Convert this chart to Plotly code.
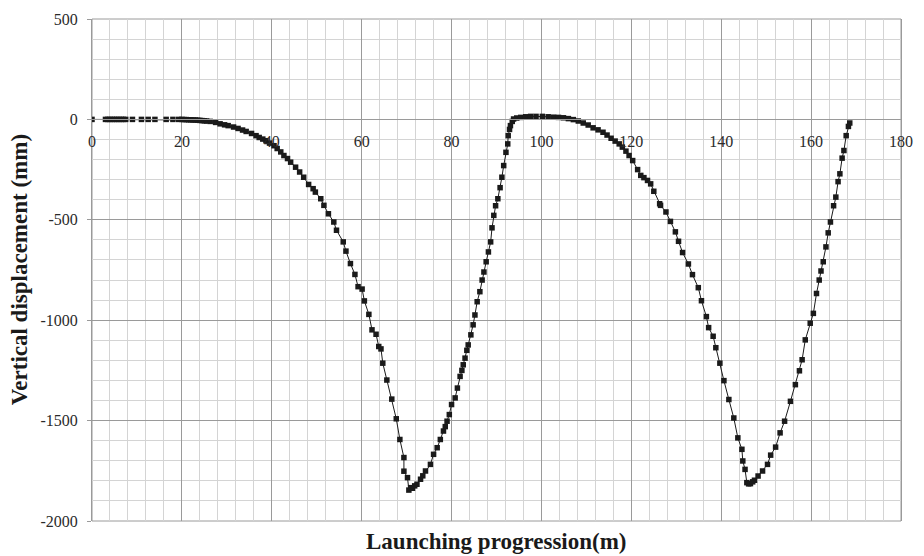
import plotly.graph_objects as go

# Launching progression (m)
x_m = [0, 3, 3.5, 4, 4.5, 5, 5.5, 6, 6.5, 7, 7.5, 9, 11, 12.5, 14, 16.5, 18, 19.3,
       20, 20.5, 21, 21.5, 22, 22.5, 23, 23.5, 24, 24.5, 25, 25.5,
       26.3, 27.5, 28.5, 29.5, 30.3, 31.5, 32.5, 33.5, 34.3, 35.5, 36.5, 37.2, 38, 38.7,
       39.5, 40.5, 41.2, 42, 42.7, 43.5, 44.2, 45.3, 46.2, 47.1, 48.2, 49.2, 49.7, 50.9,
       51.6, 52.6, 53.8, 54.4, 55.9, 56.5, 57.5, 58.5, 59.2, 60.1, 60.6, 61.6, 62.3, 63.2,
       63.8, 64.3, 64.7, 65.6, 66.7, 67.7, 68.5, 69.4, 69.4, 70.2, 70.5, 70.9, 71.3, 71.8,
       72.3, 73.1, 73.6, 74.2, 75.3, 76, 76.8, 77.5, 78.2, 78.6, 79, 79.5, 80, 80.8, 81.3,
       81.9, 82.3, 82.6, 83, 83.4, 83.7, 84.3, 84.8, 85.2, 85.7, 86.3, 86.8, 87.2, 87.7,
       88.2, 88.7, 89, 89.4, 89.8, 90.3, 90.8, 91.2, 91.6, 92.1, 92.5, 92.6, 92.9, 93.1,
       93.5, 93.8, 94.5, 95.4, 96.5, 97.6, 98.8, 100.2, 101.5, 102.7, 103.8, 104.9, 106,
       107.1, 108.2, 109.3, 110.4, 111.5, 112.6, 113.7, 114.6, 115.5, 116.4, 117.3, 118,
       118.8, 119.5, 120.3, 121.4, 122.1, 122.8, 123.6, 124.3, 125, 126.3, 126.5, 127.7,
       128.7, 129.8, 130.5, 131.4, 132.7, 133.6, 134.9, 135.6, 136.7, 137.2, 138.2, 138.8,
       139.7, 140.6, 141.7, 142.8, 143.7, 144.6, 144.8, 145.3, 145.7, 146.1, 146.5, 147,
       147.4, 148.2, 149.2, 150.3, 151, 152.1, 153.1, 154.1, 155.4, 156.5, 157.4, 158,
       158.7, 159.8, 160.5, 161.2, 161.8, 162.2, 162.7, 163.3, 163.8, 164.3, 165, 165.5,
       166, 166.4, 166.9, 167.3, 167.8, 168.3, 168.6]

# Vertical displacement (mm)
disp_mm = [0, 0, 0, 0, 0, 0, 0, 0, 0, 0, 0, 0, 0, 0, 0, 0, 0, 0,
           0, -1, -1, -2, -2, -3, -3, -4, -5, -6, -7, -8,
           -10, -15, -22, -27, -31, -38, -45, -53, -60, -70, -81, -90, -98, -106,
           -118, -131, -145, -162, -180, -195, -213, -238, -262, -288, -324, -345, -362, -395,
           -428, -470, -511, -552, -610, -656, -718, -772, -833, -845, -904, -971, -1048, -1070,
           -1131, -1143, -1214, -1298, -1393, -1491, -1594, -1684, -1752, -1784, -1846, -1834, -1837, -1825,
           -1817, -1792, -1775, -1751, -1718, -1668, -1635, -1594, -1552, -1530, -1503, -1470, -1420, -1387, -1338,
           -1280, -1250, -1222, -1189, -1150, -1123, -1073, -1023, -974, -908, -858, -800, -760, -709,
           -660, -610, -540, -478, -430, -395, -340, -288, -230, -164, -122, -81, -50, -31,
           -10, 2, 7, 10, 13, 15, 15, 15, 13, 11, 10, 8, 4,
           -1, -8, -18, -28, -42, -52, -64, -78, -94, -108, -122, -138,
           -158, -180, -205, -250, -279, -290, -304, -321, -358, -420, -428, -461,
           -508, -560, -607, -663, -720, -773, -838, -903, -982, -1037, -1080, -1137,
           -1214, -1301, -1395, -1487, -1586, -1643, -1701, -1743, -1809, -1815, -1814, -1805,
           -1797, -1776, -1751, -1718, -1672, -1632, -1561, -1503, -1404, -1321, -1252, -1197,
           -1098, -1015, -966, -867, -800, -755, -709, -635, -565, -511, -430, -387,
           -310, -271, -193, -155, -81, -35, -18]

x_ticks = [0, 20, 40, 60, 80, 100, 120, 140, 160, 180]
y_ticks = [500, 0, -500, -1000, -1500, -2000]
y_tick_text = ["500", "0", "-500", "-1000", "-1500", "-2000"]

SERIF = "Liberation Serif, Times New Roman, serif"

fig = go.Figure()
fig.add_trace(go.Scatter(
    x=x_m, y=disp_mm, mode="lines+markers",
    line=dict(color="#1a1a1a", width=1),
    marker=dict(symbol="square", size=5.5, color="#1a1a1a"),
    showlegend=False,
))

fig.update_layout(
    width=924, height=556,
    margin=dict(l=92, r=11, t=16, b=35),
    paper_bgcolor="white", plot_bgcolor="white",
    font=dict(family=SERIF, size=16, color="#2a2a2a"),
    xaxis=dict(
        range=[0, 180], tickvals=x_ticks, ticktext=[str(v) for v in x_ticks],
        showgrid=True, gridcolor="#9a9a9a", gridwidth=1,
        minor=dict(dtick=4, tick0=0, showgrid=True, gridcolor="#d4d4d4", gridwidth=1),
        anchor="free", position=0.8, showline=True, linecolor="#9a9a9a", linewidth=1,
        ticks="", ticklabelstandoff=7, zeroline=False,
        tickfont=dict(family=SERIF, size=16, color="#2a2a2a"),
    ),
    yaxis=dict(
        range=[-2000, 500], tickvals=y_ticks, ticktext=y_tick_text,
        showgrid=True, gridcolor="#9a9a9a", gridwidth=1,
        minor=dict(dtick=100, tick0=0, showgrid=True, gridcolor="#d4d4d4", gridwidth=1),
        showline=True, linecolor="#9a9a9a", linewidth=1, mirror=True,
        ticks="outside", ticklen=4, tickcolor="#9a9a9a", zeroline=False,
        ticklabelstandoff=6,
        tickfont=dict(family=SERIF, size=16, color="#2a2a2a"),
    ),
    shapes=[dict(type="rect", xref="paper", yref="paper", x0=0, x1=1, y0=0, y1=1,
                 line=dict(color="#9a9a9a", width=1), layer="below")],
    annotations=[
        dict(text="<b>Launching progression(m)</b>", xref="paper", yref="paper",
             x=0.5, y=-0.04, xanchor="center", yanchor="middle", showarrow=False,
             font=dict(family=SERIF, size=23, color="#1a1a1a")),
        dict(text="<b>Vertical displacement (mm)</b>", xref="paper", yref="paper",
             x=-0.09, y=0.5, xanchor="center", yanchor="middle", textangle=-90,
             showarrow=False, font=dict(family=SERIF, size=23, color="#1a1a1a")),
    ],
)

fig.write_html("out.html")
